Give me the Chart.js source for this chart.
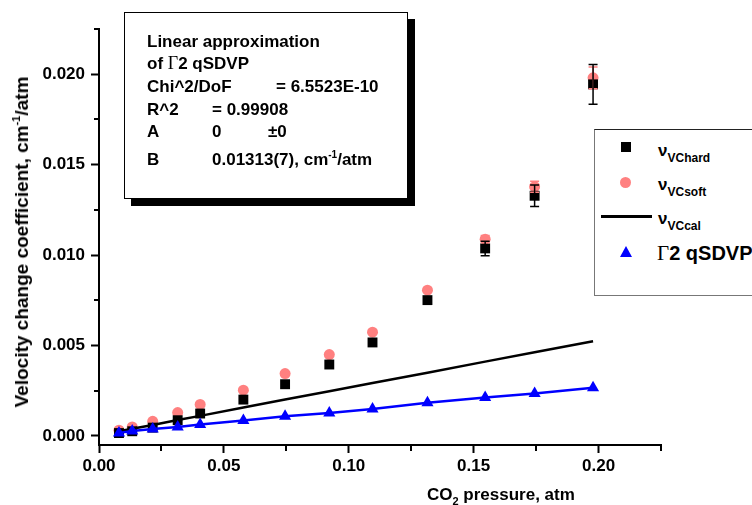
<!DOCTYPE html>
<html>
<head>
<meta charset="utf-8">
<script src="https://cdn.jsdelivr.net/npm/chart.js@4.4.1/dist/chart.umd.min.js"></script>
<style>
  html, body { margin: 0; padding: 0; background: #fff; }
  #wrap { position: relative; width: 752px; height: 505px; overflow: hidden;
          font-family: "Liberation Sans", Arial, sans-serif; font-weight: bold; color: #000; }
  #chart { position: absolute; left: 0; top: 0; }
  .t { position: absolute; white-space: nowrap; font-size: 17px; line-height: 17px; }
  .g { font-family: "Liberation Serif", "Times New Roman", serif; font-weight: normal; font-size: 18px; }
  .sup { font-size: 10px; position: relative; top: -7px; }
  .sub { font-size: 12px; position: relative; top: 6px; }
  #fitbox { position: absolute; left: 124px; top: 12px; width: 282px; height: 185px;
            border: 1px solid #000; background: #fff; box-shadow: 7px 7px 0 #000; }
  #legbox { position: absolute; left: 594px; top: 129px; width: 200px; height: 165px;
            border-left: 1px solid #777; border-bottom: 1px solid #777; border-top: 1px solid #222; background: #fff; }
  .mk { position: absolute; }
</style>
</head>
<body>
<div id="wrap">
  <canvas id="chart" width="752" height="505"></canvas>

  <!-- linear fit summary -->
  <div id="fitbox"></div>
  <div class="t" style="left:147px; top:33px;">Linear approximation</div>
  <div class="t" style="left:147px; top:55px;">of <span class="g">Γ</span>2 qSDVP</div>
  <div class="t" style="left:147px; top:78px;">Chi^2/DoF</div>
  <div class="t" style="left:276px; top:78px;">= 6.5523E-10</div>
  <div class="t" style="left:147px; top:101px;">R^2</div>
  <div class="t" style="left:212px; top:101px;">= 0.99908</div>
  <div class="t" style="left:147px; top:123px;">A</div>
  <div class="t" style="left:212px; top:123px;">0</div>
  <div class="t" style="left:268px; top:123px;">±0</div>
  <div class="t" style="left:147px; top:151px;">B</div>
  <div class="t" style="left:212px; top:151px;">0.01313(7), cm<span class="sup">-1</span>/atm</div>

  <!-- legend -->
  <div id="legbox"></div>
  <div class="mk" style="left:621px; top:142px; width:10px; height:10px; background:#000;"></div>
  <div class="t" style="left:658px; top:142px;">ν<span class="sub">VChard</span></div>
  <div class="mk" style="left:620px; top:177px; width:11px; height:11px; border-radius:50%; background:#ff8080;"></div>
  <div class="t" style="left:658px; top:176px;">ν<span class="sub">VCsoft</span></div>
  <div class="mk" style="left:601px; top:215px; width:51px; height:3px; background:#000;"></div>
  <div class="t" style="left:658px; top:210px;">ν<span class="sub">VCcal</span></div>
  <div class="mk" style="left:620px; top:246px; width:0; height:0; border-left:6.5px solid transparent; border-right:6.5px solid transparent; border-bottom:11px solid #0000ff;"></div>
  <div class="t" style="left:657px; top:243px; font-size:20px; line-height:20px;"><span class="g" style="font-size:21px;">Γ</span>2 qSDVP</div>

  <!-- axis titles -->
  <div class="t" style="left:23px; top:242px; font-size:19px; line-height:19px; transform:translate(-50%,-50%) rotate(-90deg);">Velocity change coefficient, cm<span class="sup" style="font-size:11px; top:-8px;">-1</span>/atm</div>
  <div class="t" style="left:427px; top:486px;">CO<span class="sub" style="font-size:11px; top:5px;">2</span> pressure, atm</div>
</div>

<script>
// CO2 pressure, atm
const pressure = [0.0080, 0.0133, 0.0215, 0.0315, 0.0405, 0.0578, 0.0745, 0.0922, 0.1095, 0.1315, 0.1546, 0.1744, 0.1978];

// velocity change coefficients, cm-1/atm
const vcHard = [0.00016, 0.00026, 0.00046, 0.00087, 0.00124, 0.00201, 0.00286, 0.00395, 0.00517, 0.00751, 0.01037, 0.01328, 0.01944];
const vcHardErr = [0, 0, 0, 0, 0, 0, 0, 0, 0, 0, 0.0004, 0.0006, 0.0011];
const vcSoft = [0.00032, 0.00050, 0.00081, 0.00129, 0.00174, 0.00253, 0.00345, 0.00450, 0.00574, 0.00806, 0.01088, 0.01378, 0.01980];
const vcSoftErr = [0, 0, 0, 0, 0, 0, 0, 0, 0, 0, 0.0002, 0.0003, 0.0006];
const vcCal = [0.00026, 0.00040, 0.00061, 0.00088, 0.00111, 0.00157, 0.00201, 0.00247, 0.00293, 0.00350, 0.00411, 0.00463, 0.00524];
const gamma2 = [0.00017, 0.00028, 0.00039, 0.00050, 0.00063, 0.00085, 0.00109, 0.00127, 0.00149, 0.00183, 0.00212, 0.00235, 0.00266];

// axis ticks
const xTicks = [0, 0.05, 0.10, 0.15, 0.20];
const xTickLabels = ['0.00', '0.05', '0.10', '0.15', '0.20'];
const xMinorTicks = [0.025, 0.075, 0.125, 0.175, 0.225];
const yTicks = [0, 0.005, 0.010, 0.015, 0.020];
const yTickLabels = ['0.000', '0.005', '0.010', '0.015', '0.020'];
const yMinorTicks = [0.0025, 0.0075, 0.0125, 0.0175, 0.0225];

const toPoints = vals => pressure.map((p, i) => ({ x: p, y: vals[i] }));

const PINK = '#ff8080';
const BLUE = '#0000ff';
const tickFont = { family: 'Liberation Sans', size: 17, weight: 'bold' };

// error bars and minor ticks
const extras = {
  id: 'extras',
  afterDatasetsDraw(chart) {
    const { ctx, scales: { x, y } } = chart;
    const bars = [
      { vals: vcSoft, errs: vcSoftErr, color: PINK },
      { vals: vcHard, errs: vcHardErr, color: '#000' }
    ];
    ctx.save();
    ctx.lineWidth = 1.5;
    bars.forEach(({ vals, errs, color }) => {
      ctx.strokeStyle = color;
      pressure.forEach((p, i) => {
        const e = errs[i];
        if (!e) return;
        const px = x.getPixelForValue(p);
        const yTop = y.getPixelForValue(vals[i] + e);
        const yBot = y.getPixelForValue(vals[i] - e);
        ctx.beginPath();
        ctx.moveTo(px, yTop); ctx.lineTo(px, yBot);
        ctx.moveTo(px - 4.5, yTop); ctx.lineTo(px + 4.5, yTop);
        ctx.moveTo(px - 4.5, yBot); ctx.lineTo(px + 4.5, yBot);
        ctx.stroke();
      });
    });
    ctx.restore();
  },
  afterDraw(chart) {
    const { ctx, chartArea, scales: { x, y } } = chart;
    ctx.save();
    ctx.strokeStyle = '#000';
    ctx.lineWidth = 2;
    ctx.beginPath();
    xMinorTicks.forEach(v => {
      const px = Math.round(x.getPixelForValue(v));
      ctx.moveTo(px, chartArea.bottom);
      ctx.lineTo(px, chartArea.bottom + 6);
    });
    yMinorTicks.forEach(v => {
      const py = Math.round(y.getPixelForValue(v));
      ctx.moveTo(chartArea.left - 5, py);
      ctx.lineTo(chartArea.left, py);
    });
    ctx.stroke();
    ctx.restore();
  }
};

new Chart(document.getElementById('chart'), {
  type: 'scatter',
  data: {
    datasets: [
      {
        label: 'Γ2 qSDVP', data: toPoints(gamma2), showLine: true,
        borderColor: BLUE, borderWidth: 2.5, backgroundColor: BLUE,
        pointStyle: 'triangle', pointRadius: 7, pointBackgroundColor: BLUE, pointBorderWidth: 0,
        order: 0
      },
      {
        label: 'νVCcal', data: toPoints(vcCal), showLine: true,
        borderColor: '#000', borderWidth: 2.5, pointRadius: 0, order: 1
      },
      {
        label: 'νVChard', data: toPoints(vcHard), showLine: false,
        pointStyle: 'rect', pointRadius: 7, pointBackgroundColor: '#000', pointBorderWidth: 0,
        order: 2
      },
      {
        label: 'νVCsoft', data: toPoints(vcSoft), showLine: false,
        pointStyle: 'circle', pointRadius: 5.5, pointBackgroundColor: PINK, pointBorderWidth: 0,
        order: 3
      }
    ]
  },
  options: {
    responsive: false,
    devicePixelRatio: 1,
    animation: false,
    layout: { padding: { left: 0, right: 91, top: 29, bottom: 0 } },
    plugins: { legend: { display: false }, tooltip: { enabled: false }, title: { display: false } },
    scales: {
      x: {
        type: 'linear', min: 0, max: 0.225,
        afterBuildTicks: s => { s.ticks = xTicks.map(v => ({ value: v })); },
        afterFit: s => { s.height = 60; },
        ticks: { callback: (v, i) => xTickLabels[i], font: tickFont, color: '#000', padding: 3, maxRotation: 0, autoSkip: false },
        grid: { drawOnChartArea: false, drawTicks: true, tickLength: 8, tickWidth: 2, tickColor: '#000' },
        border: { display: true, color: '#000', width: 2 }
      },
      y: {
        type: 'linear', min: -0.0005, max: 0.0225,
        afterBuildTicks: s => { s.ticks = yTicks.map(v => ({ value: v })); },
        afterFit: s => { s.width = 99; },
        ticks: { callback: (v, i) => yTickLabels[i], font: tickFont, color: '#000', padding: 6, autoSkip: false },
        grid: { drawOnChartArea: false, drawTicks: true, tickLength: 8, tickWidth: 2, tickColor: '#000' },
        border: { display: true, color: '#000', width: 2 }
      }
    }
  },
  plugins: [extras]
});
</script>
</body>
</html>
